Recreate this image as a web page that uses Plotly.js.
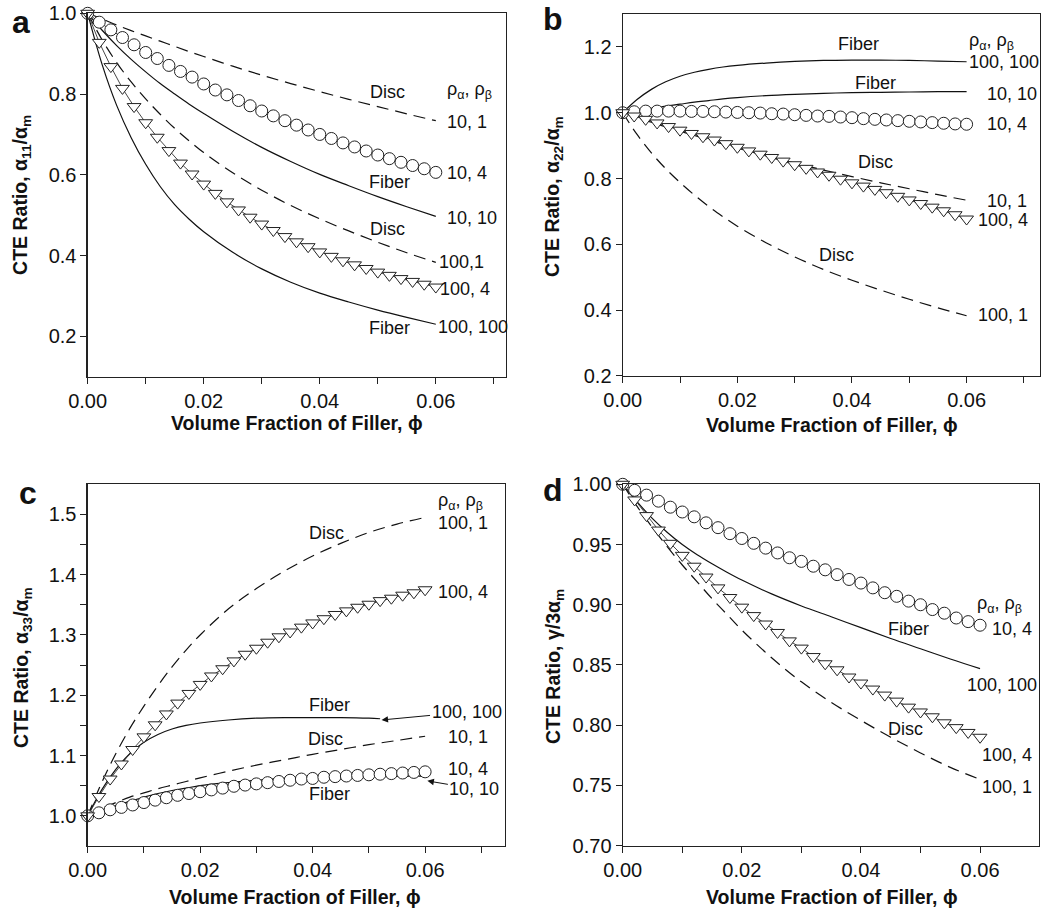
<!DOCTYPE html>
<html>
<head>
<meta charset="utf-8">
<script src="https://cdn.plot.ly/plotly-3.0.1.min.js"></script>
<style>html,body{margin:0;padding:0;background:#fff;}#chart{width:1041px;height:911px;}</style>
</head>
<body>
<div id="chart"></div>
<script>
// ---- marker x positions (volume fraction) ----
const xMarkers = [0,0.002,0.004,0.006,0.008,0.010,0.012,0.014,0.016,0.018,0.020,0.022,0.024,0.026,0.028,0.030,0.032,0.034,0.036,0.038,0.040,0.042,0.044,0.046,0.048,0.050,0.052,0.054,0.056,0.058,0.060];
// ---- line x positions ----
const xLines = [0,0.0025,0.005,0.0075,0.01,0.0125,0.015,0.0175,0.02,0.025,0.03,0.035,0.04,0.045,0.05,0.055,0.06];
const xLinesC100 = [0,0.0025,0.005,0.0075,0.01,0.0125,0.015,0.0175,0.02,0.025,0.03,0.035,0.04,0.045,0.05,0.052];

// ---- panel a : alpha11/alpham ----
const aCirc_10_4 = [1.0,0.978,0.959,0.94,0.922,0.903,0.888,0.871,0.856,0.842,0.825,0.81,0.798,0.784,0.771,0.758,0.746,0.734,0.723,0.711,0.70,0.69,0.679,0.669,0.659,0.649,0.64,0.631,0.623,0.615,0.606];
const aTri_100_4 = [1.0,0.928,0.868,0.814,0.769,0.729,0.693,0.66,0.629,0.602,0.577,0.554,0.533,0.513,0.495,0.478,0.462,0.447,0.434,0.422,0.409,0.398,0.387,0.377,0.368,0.359,0.351,0.343,0.336,0.329,0.322];
const aDisc_10_1 = [1,0.986,0.971,0.957,0.944,0.931,0.918,0.905,0.893,0.869,0.847,0.826,0.806,0.787,0.769,0.751,0.734];
const aFiber_10_10 = [1,0.958,0.92,0.886,0.855,0.826,0.80,0.775,0.752,0.708,0.668,0.633,0.601,0.573,0.546,0.521,0.497];
const aDisc_100_1 = [1,0.934,0.878,0.83,0.788,0.75,0.715,0.684,0.655,0.605,0.562,0.524,0.491,0.461,0.433,0.407,0.383];
const aFiber_100_100 = [1,0.873,0.772,0.692,0.626,0.571,0.526,0.49,0.459,0.408,0.367,0.334,0.307,0.285,0.265,0.247,0.23];

// ---- panel b : alpha22/alpham ----
const bCirc_10_4 = [1.0,1.003,1.005,1.005,1.005,1.005,1.004,1.004,1.003,1.002,1.001,1.0,0.999,0.997,0.996,0.994,0.992,0.990,0.989,0.987,0.985,0.982,0.980,0.978,0.976,0.974,0.972,0.970,0.968,0.966,0.965];
const bTri_100_4 = [1.0,0.99,0.98,0.969,0.958,0.947,0.937,0.927,0.917,0.906,0.895,0.884,0.874,0.864,0.853,0.842,0.831,0.820,0.810,0.798,0.787,0.777,0.767,0.757,0.746,0.735,0.724,0.713,0.702,0.69,0.677];
const bFiber_100_100 = [1,1.04,1.071,1.094,1.111,1.123,1.132,1.139,1.144,1.151,1.156,1.159,1.16,1.16,1.159,1.157,1.155];
const bFiber_10_10 = [1,1.007,1.013,1.02,1.026,1.032,1.037,1.042,1.046,1.052,1.056,1.059,1.061,1.062,1.063,1.064,1.064];
const bDisc_10_1 = [1,0.986,0.971,0.957,0.944,0.931,0.918,0.905,0.893,0.869,0.847,0.826,0.806,0.787,0.769,0.751,0.734];
const bDisc_100_1 = [1,0.934,0.878,0.83,0.788,0.75,0.715,0.684,0.655,0.605,0.562,0.524,0.491,0.461,0.433,0.407,0.383];

// ---- panel c : alpha33/alpham ----
const cCirc_10_4 = [1.0,1.005,1.01,1.014,1.018,1.022,1.026,1.03,1.034,1.037,1.04,1.043,1.046,1.049,1.051,1.053,1.055,1.057,1.059,1.061,1.062,1.064,1.065,1.066,1.067,1.068,1.069,1.07,1.071,1.072,1.073];
const cTri_100_4 = [1.0,1.032,1.061,1.086,1.11,1.131,1.151,1.169,1.187,1.203,1.218,1.232,1.244,1.257,1.268,1.278,1.288,1.297,1.305,1.313,1.32,1.327,1.334,1.34,1.346,1.351,1.357,1.361,1.366,1.37,1.375];
const cDisc_100_1 = [1,1.055,1.103,1.145,1.182,1.216,1.247,1.275,1.30,1.343,1.377,1.406,1.431,1.452,1.47,1.484,1.495];
const cFiber_100_100 = [1.0,1.043,1.077,1.103,1.122,1.135,1.144,1.15,1.154,1.159,1.162,1.163,1.163,1.163,1.162,1.161];
const cDisc_10_1 = [1,1.012,1.022,1.031,1.038,1.045,1.051,1.057,1.063,1.074,1.084,1.093,1.102,1.11,1.118,1.125,1.132];
const cFiber_10_10 = [1,1.009,1.017,1.024,1.031,1.037,1.042,1.046,1.05,1.055,1.059,1.062,1.064,1.065,1.066,1.066,1.066];

// ---- panel d : gamma/3alpham ----
const dCirc_10_4 = [1.0,0.995,0.991,0.986,0.981,0.977,0.973,0.968,0.964,0.959,0.955,0.951,0.947,0.943,0.939,0.936,0.932,0.929,0.925,0.921,0.918,0.914,0.910,0.907,0.903,0.900,0.896,0.893,0.889,0.886,0.883];
const dTri_100_4 = [1.0,0.987,0.974,0.962,0.951,0.941,0.932,0.923,0.914,0.906,0.898,0.891,0.884,0.877,0.870,0.864,0.857,0.851,0.846,0.840,0.835,0.830,0.825,0.820,0.815,0.811,0.807,0.802,0.798,0.794,0.790];
const dFiber_100_100 = [1,0.985,0.9715,0.96,0.95,0.9415,0.934,0.927,0.9205,0.909,0.899,0.89,0.881,0.872,0.8635,0.855,0.847];
const dDisc_100_1 = [1,0.981,0.964,0.948,0.933,0.919,0.905,0.892,0.879,0.856,0.836,0.819,0.804,0.79,0.777,0.765,0.755];

// ---- tick labels ----
const xTickVals = [0,0.02,0.04,0.06];
const xTickText = ['0.00','0.02','0.04','0.06'];
const xMinorVals = [0.01,0.03,0.05,0.07];
const aTickVals = [0.2,0.4,0.6,0.8,1.0];
const aTickText = ['0.2','0.4','0.6','0.8','1.0'];
const bTickVals = [0.2,0.4,0.6,0.8,1.0,1.2];
const bTickText = ['0.2','0.4','0.6','0.8','1.0','1.2'];
const cTickVals = [1.0,1.1,1.2,1.3,1.4,1.5];
const cTickText = ['1.0','1.1','1.2','1.3','1.4','1.5'];
const cMinorVals = [1.05,1.15,1.25,1.35,1.45];
const dTickVals = [0.70,0.75,0.80,0.85,0.90,0.95,1.00];
const dTickText = ['0.70','0.75','0.80','0.85','0.90','0.95','1.00'];

const FONT = 'Arial, "Liberation Sans", Helvetica, sans-serif';
const INK = '#111';

function solid(x, y, ax){ return {x:x, y:y, xaxis:'x'+ax, yaxis:'y'+ax, mode:'lines', line:{color:INK, width:1.2, shape:'spline', smoothing:1}, hoverinfo:'skip', showlegend:false}; }
function dashed(x, y, ax){ return {x:x, y:y, xaxis:'x'+ax, yaxis:'y'+ax, mode:'lines', line:{color:INK, width:1.2, dash:'12px,7px', shape:'spline', smoothing:1}, hoverinfo:'skip', showlegend:false}; }
function marks(x, y, ax, sym){ return {x:x, y:y, xaxis:'x'+ax, yaxis:'y'+ax, mode:'lines+markers', cliponaxis:false,
  line:{color:'#333', width:0.9}, marker:{symbol:sym, size:12, color:'#fff', line:{color:'#222', width:1}}, hoverinfo:'skip', showlegend:false}; }

const data = [
  dashed(xLines, aDisc_10_1, ''), solid(xLines, aFiber_10_10, ''), dashed(xLines, aDisc_100_1, ''), solid(xLines, aFiber_100_100, ''),
  marks(xMarkers, aCirc_10_4, '', 'circle'), marks(xMarkers, aTri_100_4, '', 'triangle-down'),
  solid(xLines, bFiber_100_100, '2'), solid(xLines, bFiber_10_10, '2'), dashed(xLines, bDisc_10_1, '2'), dashed(xLines, bDisc_100_1, '2'),
  marks(xMarkers, bCirc_10_4, '2', 'circle'), marks(xMarkers, bTri_100_4, '2', 'triangle-down'),
  dashed(xLines, cDisc_100_1, '3'), solid(xLinesC100, cFiber_100_100, '3'), dashed(xLines, cDisc_10_1, '3'), solid(xLines, cFiber_10_10, '3'),
  marks(xMarkers, cCirc_10_4, '3', 'circle'), marks(xMarkers, cTri_100_4, '3', 'triangle-down'),
  solid(xLines, dFiber_100_100, '4'), dashed(xLines, dDisc_100_1, '4'),
  marks(xMarkers, dCirc_10_4, '4', 'circle'), marks(xMarkers, dTri_100_4, '4', 'triangle-down')
];

function xa(domain, range, anchor){ return {domain:domain, range:range, anchor:anchor, showline:true, linecolor:'#222', linewidth:1.2, mirror:true,
  ticks:'outside', ticklen:6, tickwidth:1, tickcolor:'#222', tickmode:'array', tickvals:xTickVals, ticktext:xTickText,
  minor:{tickmode:'array', tickvals:xMinorVals, ticks:'outside', ticklen:6, tickwidth:1, tickcolor:'#222', showgrid:false},
  showgrid:false, zeroline:false, tickfont:{family:FONT, size:20, color:INK}}; }
function ya(domain, range, anchor, tv, tt, mv){ const o = {domain:domain, range:range, anchor:anchor, showline:true, linecolor:'#222', linewidth:1.2, mirror:true,
  ticks:'outside', ticklen:6, tickwidth:1, tickcolor:'#222', tickmode:'array', tickvals:tv, ticktext:tt,
  showgrid:false, zeroline:false, tickfont:{family:FONT, size:20, color:INK}};
  if (mv) o.minor = {tickmode:'array', tickvals:mv, ticks:'outside', ticklen:6, tickwidth:1, tickcolor:'#222', showgrid:false};
  return o; }

function lab(text, x, y, ax, anchor){ return {text:text, x:x, y:y, xref:'x'+ax, yref:'y'+ax, xanchor:anchor||'center', yanchor:'middle', showarrow:false, font:{family:FONT, size:18, color:INK}}; }
function ptxt(text, x, y, opts){ return Object.assign({text:text, x:x, y:y, xref:'paper', yref:'paper', xanchor:'center', yanchor:'middle', showarrow:false, font:{family:FONT, size:19.5, color:INK}}, opts||{}); }
const rho = 'ρ<sub>α</sub>, ρ<sub>β</sub>';
const xTitle = '<b>Volume Fraction of Filler, ϕ</b>';

const annotations = [
  // panel a
  lab('Disc', 0.0516, 0.806, ''), lab(rho, 0.0616, 0.81, '', 'left'), lab('10, 1', 0.0616, 0.732, '', 'left'),
  lab('10, 4', 0.0616, 0.604, '', 'left'), lab('Fiber', 0.0521, 0.583, ''), lab('10, 10', 0.0616, 0.493, '', 'left'),
  lab('Disc', 0.0516, 0.465, ''), lab('100,1', 0.0602, 0.385, '', 'left'), lab('100, 4', 0.0604, 0.317, '', 'left'),
  lab('Fiber', 0.0521, 0.22, ''), lab('100, 100', 0.0600, 0.224, '', 'left'),
  // panel b
  lab('Fiber', 0.0412, 1.21, '2'), lab(rho, 0.0600, 1.215, '2', 'left'), lab('100, 100', 0.0600, 1.154, '2', 'left'),
  lab('Fiber', 0.0441, 1.089, '2'), lab('10, 10', 0.0632, 1.058, '2', 'left'), lab('10, 4', 0.0632, 0.965, '2', 'left'),
  lab('Disc', 0.0441, 0.849, '2'), lab('10, 1', 0.0632, 0.731, '2', 'left'), lab('100, 4', 0.0616, 0.674, '2', 'left'),
  lab('Disc', 0.0373, 0.567, '2'), lab('100, 1', 0.0616, 0.385, '2', 'left'),
  // panel c
  lab(rho, 0.062, 1.521, '3', 'left'), lab('Disc', 0.0424, 1.47, '3'), lab('100, 1', 0.062, 1.485, '3', 'left'),
  lab('100, 4', 0.062, 1.371, '3', 'left'), lab('Fiber', 0.043, 1.184, '3'), lab('Disc', 0.0422, 1.1275, '3'),
  lab('10, 1', 0.0637, 1.13, '3', 'left'), lab('10, 4', 0.0637, 1.078, '3', 'left'), lab('Fiber', 0.043, 1.036, '3'),
  {text:'100, 100', x:0.05225, y:1.159, xref:'x3', yref:'y3', ax:85, ay:-8, showarrow:true, arrowhead:2, arrowsize:1.3, arrowwidth:1, arrowcolor:INK, font:{family:FONT, size:18, color:INK}},
  {text:'10, 10', x:0.0604, y:1.058, xref:'x3', yref:'y3', ax:47, ay:8, showarrow:true, arrowhead:2, arrowsize:1.3, arrowwidth:1, arrowcolor:INK, font:{family:FONT, size:18, color:INK}},
  // panel d
  lab(rho, 0.0592, 0.90, '4', 'left'), lab('10, 4', 0.0617, 0.880, '4', 'left'), lab('Fiber', 0.048, 0.88, '4'),
  lab('100, 100', 0.0575, 0.833, '4', 'left'), lab('Disc', 0.0474, 0.797, '4'), lab('100, 4', 0.060, 0.775, '4', 'left'),
  lab('100, 1', 0.060, 0.749, '4', 'left'),
  // axis titles
  ptxt(xTitle, 0.2853, 0.5357), ptxt(xTitle, 0.799, 0.5335), ptxt(xTitle, 0.2834, 0.0154), ptxt(xTitle, 0.799, 0.0154),
  ptxt('<b>CTE Ratio, α<sub>11</sub>/α<sub>m</sub></b>', 0.0211, 0.786, {textangle:-90}),
  ptxt('<b>CTE Ratio, α<sub>22</sub>/α<sub>m</sub></b>', 0.5322, 0.7838, {textangle:-90}),
  ptxt('<b>CTE Ratio, α<sub>33</sub>/α<sub>m</sub></b>', 0.0211, 0.2678, {textangle:-90}),
  ptxt('<b>CTE Ratio, γ/3α<sub>m</sub></b>', 0.5322, 0.2678, {textangle:-90}),
  // panel letters
  ptxt('<b>a</b>', 0.0202, 0.9759, {font:{family:FONT, size:32, color:INK}}),
  ptxt('<b>b</b>', 0.5312, 0.9791, {font:{family:FONT, size:32, color:INK}}),
  ptxt('<b>c</b>', 0.0269, 0.4588, {font:{family:FONT, size:32, color:INK}}),
  ptxt('<b>d</b>', 0.5312, 0.4621, {font:{family:FONT, size:32, color:INK}})
];

const layout = {
  width:1041, height:911, margin:{l:0, r:0, t:0, b:0}, paper_bgcolor:'#fff', plot_bgcolor:'#fff', showlegend:false,
  font:{family:FONT, color:INK},
  xaxis: xa([0.0842,0.4861],[0,0.0721],'y'),
  yaxis: ya([0.5865,0.9854],[0.1,1.0],'x', aTickVals, aTickText),
  xaxis2: xa([0.5982,0.9990],[0,0.0728],'y2'),
  yaxis2: ya([0.5873,0.9846],[0.2,1.3],'x2', bTickVals, bTickText),
  xaxis3: xa([0.0842,0.4851],[0,0.0742],'y3'),
  yaxis3: ya([0.0714,0.4684],[0.95,1.55],'x3', cTickVals, cTickText, cMinorVals),
  xaxis4: xa([0.5982,0.9981],[0,0.0699],'y4'),
  yaxis4: ya([0.0717,0.4684],[0.70,1.00],'x4', dTickVals, dTickText),
  annotations: annotations
};

Plotly.newPlot('chart', data, layout, {staticPlot:true, displayModeBar:false});
</script>
</body>
</html>
